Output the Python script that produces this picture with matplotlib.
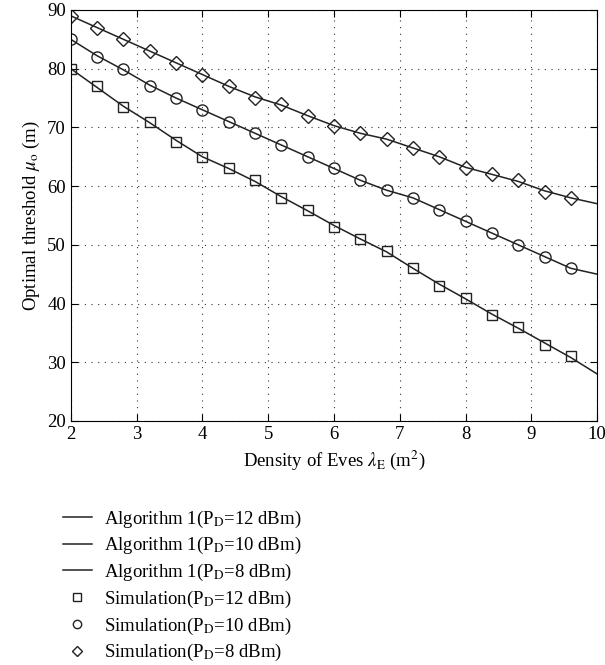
import matplotlib
matplotlib.use("Agg")
import matplotlib.pyplot as plt

plt.rcParams["font.family"] = ["Liberation Serif", "DejaVu Serif"]
plt.rcParams["mathtext.fontset"] = "stix"
plt.rcParams["font.size"] = 13.5
plt.rcParams["xtick.direction"] = "in"
plt.rcParams["ytick.direction"] = "in"

# simulation points
sim_x = [2.0, 2.4, 2.8, 3.2, 3.6, 4.0, 4.4, 4.8, 5.2, 5.6,
         6.0, 6.4, 6.8, 7.2, 7.6, 8.0, 8.4, 8.8, 9.2, 9.6]
sim_12 = [80, 77, 73.5, 71, 67.5, 65, 63, 61, 58, 56,
          53, 51, 49, 46, 43, 41, 38, 36, 33, 31]
sim_10 = [85, 82, 80, 77, 75, 73, 71, 69, 67, 65,
          63, 61, 59.3, 58, 56, 54, 52, 50, 48, 46]
sim_8 = [89, 87, 85, 83, 81, 79, 77, 75, 74, 72,
         70.3, 69, 68, 66.5, 65, 63, 62, 61, 59, 58]

# algorithm 1 curves
alg_x = [2.0, 2.4, 2.8, 3.2, 3.6, 4.0, 4.4, 4.8, 5.2, 5.6,
         6.0, 6.4, 6.8, 7.2, 7.6, 8.0, 8.4, 8.8, 9.2, 9.6, 10.0]
alg_12 = [80, 76.8, 73.6, 70.8, 67.8, 65, 63, 60.8, 58.2, 55.8,
          53.3, 51, 48.8, 46, 43.3, 40.8, 38.2, 35.8, 33.3, 30.8, 28]
alg_10 = [85, 82.2, 79.8, 77.2, 75, 73, 71, 69, 67, 65,
          63, 61, 59.3, 58, 56, 54, 52, 50, 48, 46, 45]
alg_8 = [89, 87, 85, 83, 81, 79, 77, 75.2, 73.8, 72,
         70.3, 69, 68, 66.5, 65, 63.2, 62, 60.8, 59.2, 58, 57]

fig = plt.figure(figsize=(6.05, 6.65), dpi=100)
ax = fig.add_axes([0.117, 0.367, 0.870, 0.618])

l1, = ax.plot(alg_x, alg_12, color="#222222", lw=1.1)
l2, = ax.plot(alg_x, alg_10, color="#222222", lw=1.1)
l3, = ax.plot(alg_x, alg_8, color="#222222", lw=1.1)
m1, = ax.plot(sim_x, sim_12, ls="none", marker="s", ms=7, mfc="none", mec="#222222", mew=1.0)
m2, = ax.plot(sim_x, sim_10, ls="none", marker="o", ms=8, mfc="none", mec="#222222", mew=1.0)
m3, = ax.plot(sim_x, sim_8, ls="none", marker="D", ms=7, mfc="none", mec="#222222", mew=1.0)

ax.set_xlim(2, 10)
ax.set_ylim(20, 90)
ax.set_xticks(range(2, 11))
ax.set_yticks(range(20, 91, 10))
ax.tick_params(top=True, right=True, length=5)
ax.grid(True, ls=(0, (1, 5)), color="#333333", lw=0.8)
ax.set_xlabel(r"Density of Eves $\lambda_\mathrm{E}$ (m$^2$)")
ax.set_ylabel(r"Optimal threshold $\mu_\mathrm{o}$ (m)")

labels = [r"Algorithm 1(P$_\mathrm{D}$=12 dBm)",
          r"Algorithm 1(P$_\mathrm{D}$=10 dBm)",
          r"Algorithm 1(P$_\mathrm{D}$=8 dBm)",
          r"Simulation(P$_\mathrm{D}$=12 dBm)",
          r"Simulation(P$_\mathrm{D}$=10 dBm)",
          r"Simulation(P$_\mathrm{D}$=8 dBm)"]
leg = fig.legend([l1, l2, l3, m1, m2, m3], labels, loc="upper left",
                 bbox_to_anchor=(0.08, 0.258), frameon=False,
                 handlelength=1.5, handletextpad=0.65, labelspacing=0.3,
                 borderpad=0.3, markerscale=0.75)

fig.savefig("out.png", dpi=100)
